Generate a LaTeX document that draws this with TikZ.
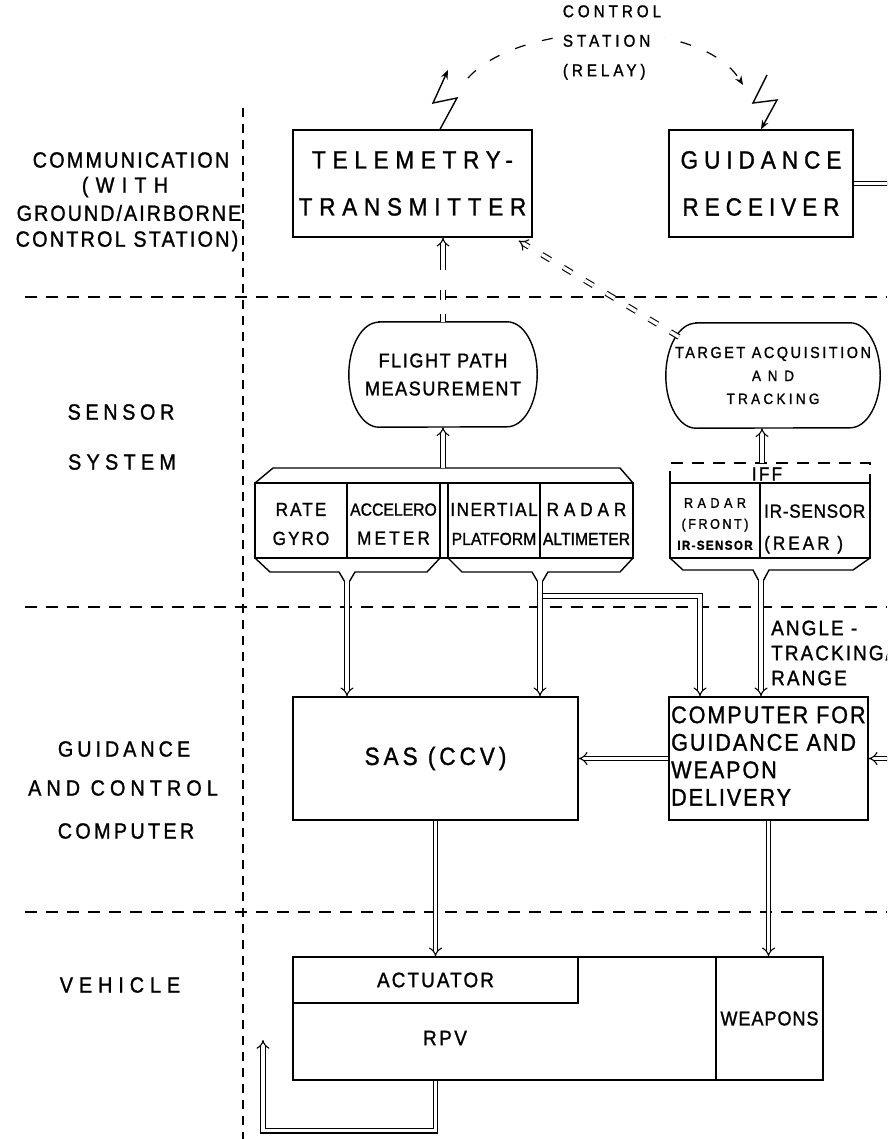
\documentclass[tikz,border=0pt]{standalone}
\usepackage{fontspec}
\setmainfont{Liberation Sans}[FakeStretch=0.9,FakeBold=1.2]
\usetikzlibrary{arrows.meta}
% size, baselineskip, letter spacing
\newcommand{\fs}[3]{\fontsize{#1pt}{#2pt}\selectfont\addfontfeature{LetterSpace=#3}}
% stadium outline around a (rectangular, undrawn) node
\newcommand{\stad}[2]{%
  \draw[ln] ([xshift=#2]#1.north west) -- ([xshift=-#2]#1.north east)
    arc[start angle=90,end angle=-90,x radius=#2,y radius=52.5pt]
    -- ([xshift=#2]#1.south west)
    arc[start angle=270,end angle=90,x radius=#2,y radius=52.5pt] -- cycle;}
\begin{document}
\begin{tikzpicture}[x=1pt,y=-1pt,
  ln/.style={line width=1.4pt},
  box/.style={draw, line width=1.4pt, inner sep=0pt, align=center},
  txt/.style={inner sep=0pt, align=center},
  zonesep/.style={line width=1.2pt, dash pattern=on 12pt off 9pt},
  colsep/.style={line width=1.2pt, dash pattern=on 9pt off 7pt},
  dbl/.style={double, double distance=3.4pt, line width=1.1pt},
  dbltip/.style={dbl, -{Implies[scale=1.4]}},
  radio/.style={ln, -{Stealth[length=9pt,width=7pt]}}
]
\useasboundingbox (0,0) rectangle (887,1139);
\clip (0,0) rectangle (887,1139);
\fill[white] (0,0) rectangle (887,1139);

% ---- zone separators
\coordinate (vtop) at (243,108);
\coordinate (vbot) at (243,1139);
\draw[colsep] (vtop) -- (vbot);
\coordinate (h1a) at (25,297);  \coordinate (h1b) at (887,297);
\coordinate (h2a) at (25,607);  \coordinate (h2b) at (887,607);
\coordinate (h3a) at (25,912);  \coordinate (h3b) at (887,912);
\draw[zonesep] (h1a) -- (h1b);
\draw[zonesep] (h2a) -- (h2b);
\draw[zonesep] (h3a) -- (h3b);

% ---- zone titles
\node[txt, font=\fs{22}{27}{10}] (com1) at (131,160) {COMMUNICATION};
\node[txt, font=\fs{22}{27}{33}] (com2) at (125,187) {(WITH};
\node[txt, font=\fs{22}{27}{9}]  (com3) at (129,213) {GROUND/AIRBORNE};
\node[txt, font=\fs{22}{27}{10}] (com4) at (127,241) {CONTROL STATION)};
\node[txt, font=\fs{22}{27}{21}] (sen1) at (121,412) {SENSOR};
\node[txt, font=\fs{22}{27}{24}] (sen2) at (122,462) {SYSTEM};
\node[txt, font=\fs{22}{27}{18}] (gac1) at (124,749) {GUIDANCE};
\node[txt, font=\fs{22}{27}{23}] (gac2) at (123,788) {AND CONTROL};
\node[txt, font=\fs{22}{27}{15}] (gac3) at (126,831) {COMPUTER};
\node[txt, font=\fs{22}{27}{27}] (veh)  at (120,985) {VEHICLE};

% ---- communication
\node[box, minimum width=239, minimum height=107, font=\fs{25}{47}{27}] (tel) at (412.5,183.5) {TELEMETRY-\\TRANSMITTER};
\node[box, minimum width=184, minimum height=107, font=\fs{25}{47}{24}] (grx) at (761,183.5) {GUIDANCE\\RECEIVER};

% relay link through the control station
\coordinate (arcS) at (468,78);
\coordinate (arcE) at (743,85);
\draw[line width=1.2pt, dash pattern=on 11pt off 17pt, -{Stealth[length=9pt,width=7pt]}]
  (arcS) .. controls (520,20) and (700,15) .. (arcE);
\node[txt, align=left, fill=white, inner sep=3pt, font=\fs{17}{29.5}{23}] (relay) at (612,42.5) {CONTROL\\STATION\\(RELAY)};

% antenna bolts
\coordinate (b1s) at ([xshift=27.5pt]tel.north);
\coordinate (b1e) at (448,70);
\draw[radio] (b1s) -- (457,98) -- (433,103) -- (b1e);
\coordinate (b2s) at (767,75);
\draw[radio] (b2s) -- (753,103) -- (777,100) -- (grx.north);

% ---- sensor system
\node[minimum width=188, minimum height=105, inner sep=0pt, align=center, font=\fs{20}{28}{8}] (fpm) at (443,374.5) {FLIGHT PATH\\MEASUREMENT};
\stad{fpm}{30pt}
\node[minimum width=214, minimum height=105, inner sep=0pt, align=center, font=\fs{16}{23}{16}] (taq) at (773,375.5)
  {TARGET ACQUISITION\\{\fs{15}{23}{45}AND}\\{\fs{15}{23}{22}TRACKING}};
\stad{taq}{30pt}

% inertial / air-data sensor rack
\draw[ln] (255,483) -- (273,468) -- (620,468) -- (633,483);
\draw[ln] (255,483) rectangle (633,558);
\draw[ln] (347,483) -- (347,558);
\draw[ln] (440,483) -- (440,558);
\draw[ln] (448,483) -- (448,558);
\draw[ln] (540,483) -- (540,558);
\draw[ln] (255,558) -- (270,572) -- (339,572) -- (344.3,581);
\draw[ln] (349.7,581) -- (355,572) -- (427,572) -- (440,558);
\draw[ln] (448,558) -- (462,572) -- (532,572) -- (537.3,581);
\draw[ln] (542.7,581) -- (548,572) -- (620,572) -- (633,558);
\node[txt, font=\fs{19}{29}{11}] (rg) at (301,524) {RATE\\GYRO};
\node[txt, font=\fs{19}{29}{17}] (ac) at (393.5,524) {{\fs{17.5}{29}{0}ACCELERO}\\METER};
\node[txt, font=\fs{19}{29}{8}]  (ip) at (494,524) {INERTIAL\\{\fs{17.5}{29}{0}PLATFORM}};
\node[txt, font=\fs{19}{29}{26}] (ra) at (586.5,524) {RADAR\\{\fs{17.5}{29}{0}ALTIMETER}};

% target sensor rack
\draw[ln, dash pattern=on 12pt off 9pt] (670,483) -- (670,463) -- (870,463) -- (870,483);
\node[txt, font=\fs{19}{20}{12}] (iff) at (767,474) {IFF};
\draw[ln] (670,483) rectangle (870,558);
\draw[ln] (760,483) -- (760,558);
\draw[ln] (670,558) -- (683,570) -- (753,570) -- (758.3,580);
\draw[ln] (763.7,580) -- (769,570) -- (853,570) -- (870,558);
\node[txt, font=\fs{14}{21}{32}] (rf) at (715,524)
  {RADAR\\{\fs{14}{21}{18}(FRONT)}\\{\bfseries\fs{13}{21}{10}IR-SENSOR}};
\node[txt, align=left, anchor=west, font=\fs{19}{32}{4}] (irr) at (764,529) {IR-SENSOR\\{\fs{19}{32}{16}(REAR )}};

% ---- guidance and control computer
\node[box, minimum width=285, minimum height=123, font=\fs{25}{27}{16}] (sas) at (435.5,758.5) {SAS (CCV)};
\node[draw, line width=1.4pt, minimum width=199, minimum height=123, inner sep=0pt] (cmp) at (768.5,758.5) {};
\node[txt, align=left, anchor=west, font=\fs{24}{27.5}{8}] (cmpt) at (671,756) {COMPUTER FOR\\GUIDANCE AND\\WEAPON\\DELIVERY};
\node[txt, align=left, anchor=west, font=\fs{21}{25}{10}] (atr) at (771,653) {ANGLE -\\TRACKING/\\RANGE};

% ---- vehicle
\node[box, minimum width=530, minimum height=123] (rpv) at (558,1018.5) {};
\node[box, minimum width=285, minimum height=46, font=\fs{21}{27}{10}] (act) at (435.5,980) {ACTUATOR};
\node[box, minimum width=107, minimum height=123, font=\fs{20}{27}{5}] (wpn) at (769.5,1018.5) {WEAPONS};
\node[txt, font=\fs{21}{27}{12}] (rpvt) at (445,1038) {RPV};

% ---- signal flow
\coordinate (lgo) at (347,581);
\coordinate (rgo) at (540,581);
\coordinate (tso) at (761,580);
\coordinate (br1) at (543,596);
\coordinate (br2) at (700,596);
\coordinate (fpin) at (443,468);
\coordinate (iffin) at (762,463);
\coordinate (taqe) at (679,337);
\coordinate (telse) at ([xshift=-14pt,yshift=-3pt]tel.south east);
\coordinate (rin) at (895,758.5);
\coordinate (grout) at (895,183.5);
\coordinate (rpvo) at (act.south |- rpv.south);
\coordinate (fbtip) at (263,1040);

\draw[dbltip] (fpin) -- (fpin |- fpm.south);
\draw[dbltip] (iffin) -- (iffin |- taq.south);
\draw[dbltip, dash pattern=on 8pt off 14pt on 10pt off 20pt on 40pt] (fpm.north) -- (fpm.north |- tel.south);
\draw[dbltip, dash pattern=on 10pt off 15pt] (taqe) -- (telse);
\draw[dbl] (grx.east) -- (grout);
\draw[dbltip] (lgo) -- (lgo |- sas.north);
\draw[dbltip] (rgo) -- (rgo |- sas.north);
\draw[dbltip] (br1) -- (br2) -- (br2 |- cmp.north);
\draw[dbltip] (tso) -- (tso |- cmp.north);
\draw[dbltip] (cmp.west) -- (sas.east);
\draw[dbltip] (rin) -- (cmp.east);
\draw[dbltip] (sas.south) -- (act.north);
\draw[dbltip] (cmp.south) -- (cmp.south |- wpn.north);
\draw[dbltip] (rpvo) -- ++(0,50) -| (fbtip);
\end{tikzpicture}
\end{document}
